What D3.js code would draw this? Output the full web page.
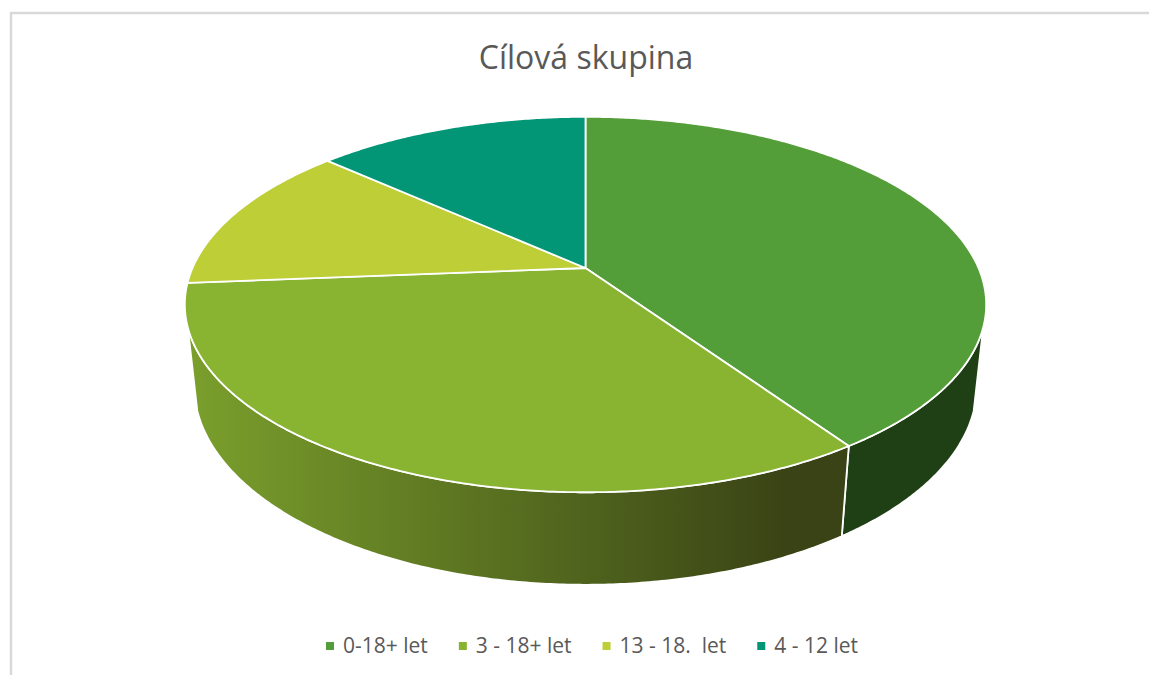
<!DOCTYPE html>
<html>
<head>
<meta charset="utf-8">
<script src="https://cdn.jsdelivr.net/npm/d3@7"></script>
<style>
html, body { margin: 0; padding: 0; background: #fff; overflow: hidden; }
text { font-family: "Open Sans", sans-serif; fill: #595959; }
</style>
</head>
<body>
<div id="chart-area"></div>
<script>
const categories = ["0-18+ let", "3 - 18+ let", "13 - 18.  let", "4 - 12 let"];
const values = [40.5, 33.2, 13.0, 13.3];
const topColors = ["#549e39", "#88b432", "#bdce37", "#029676"];

const width = 1149, height = 675;

let svg = d3.select("#chart-area")
        .append("svg")
        .attr("width", width)
        .attr("height", height);

// gradient for the light wall
let grad = svg.append("defs").append("linearGradient")
        .attr("id", "wall2")
        .attr("gradientUnits", "userSpaceOnUse")
        .attr("x1", 190).attr("x2", 790).attr("y1", 0).attr("y2", 0);
grad.append("stop").attr("offset", 0).attr("stop-color", "#7a9f2c");
grad.append("stop").attr("offset", 1).attr("stop-color", "#394315");

// frame, only top and left are visible in the picture
svg.append("path")
    .attr("d", "M11,675V13H1149")
    .attr("fill", "none")
    .attr("stroke", "#d9d9d9")
    .attr("stroke-width", 2.5);

svg.append("text")
    .attr("x", 586)
    .attr("y", 69)
    .attr("text-anchor", "middle")
    .style("font-size", "32px")
    .text("Cílová skupina");

// perspective projection of the disc, a = angle clockwise from top, h = 0 top face, 1 bottom face
const cx = 585.5, cy = 268, A = 393, B = 180.6, k = 0.1947, D = 81.8, m = 0.023;
function project(a, r, h) {
    let u = r * Math.sin(a), v = -r * Math.cos(a);
    let w = 1 - k * v + m * h;
    return [cx + A * u / w, cy + (B * v + D * h) / w];
}

const color = d3.scaleOrdinal().domain(categories).range(topColors);
const arcs = d3.pie().sort(null)(values);
const line = d3.line();
const step = Math.PI / 360;

function rim(a0, a1, h) {
    let n = Math.max(2, Math.ceil(Math.abs(a1 - a0) / step));
    return d3.range(n + 1).map(i => project(a0 + (a1 - a0) * i / n, 1, h));
}

// visible part of the wall runs between the two tangent angles
const wallFrom = 108 * Math.PI / 180, wallTo = 252 * Math.PI / 180;
const wallFill = ["#1f3f15", "url(#wall2)"];

svg.selectAll(".wall")
    .data(arcs.filter(d => d.startAngle < wallTo && d.endAngle > wallFrom))
    .enter()
    .append("path")
    .attr("class", "wall")
    .attr("d", function(d) {
        let a0 = Math.max(d.startAngle, wallFrom), a1 = Math.min(d.endAngle, wallTo);
        return line(rim(a0, a1, 0).concat(rim(a1, a0, 1))) + "Z";
    })
    .attr("fill", (d, i) => wallFill[i])
    .attr("stroke", "#fff")
    .attr("stroke-width", 1.8);

svg.selectAll(".slice")
    .data(arcs)
    .enter()
    .append("path")
    .attr("class", "slice")
    .attr("d", d => line([project(0, 0, 0)].concat(rim(d.startAngle, d.endAngle, 0))) + "Z")
    .attr("fill", (d, i) => color(categories[i]))
    .attr("stroke", "#fff")
    .attr("stroke-width", 1.8)
    .attr("stroke-linejoin", "round");

// legend
let legend = svg.append("g").attr("transform", "translate(326,0)");
let items = legend.selectAll("g")
    .data(categories)
    .enter()
    .append("g");
items.append("rect")
    .attr("y", 642)
    .attr("width", 8)
    .attr("height", 8)
    .attr("fill", d => color(d));
items.append("text")
    .attr("x", 17)
    .attr("y", 653)
    .style("white-space", "pre")
    .style("font-size", "21px")
    .text(d => d);

let x = 0;
items.each(function() {
    d3.select(this).attr("transform", "translate(" + x + ",0)");
    x += 17 + this.querySelector("text").getComputedTextLength() + 31;
});
</script>
</body>
</html>
